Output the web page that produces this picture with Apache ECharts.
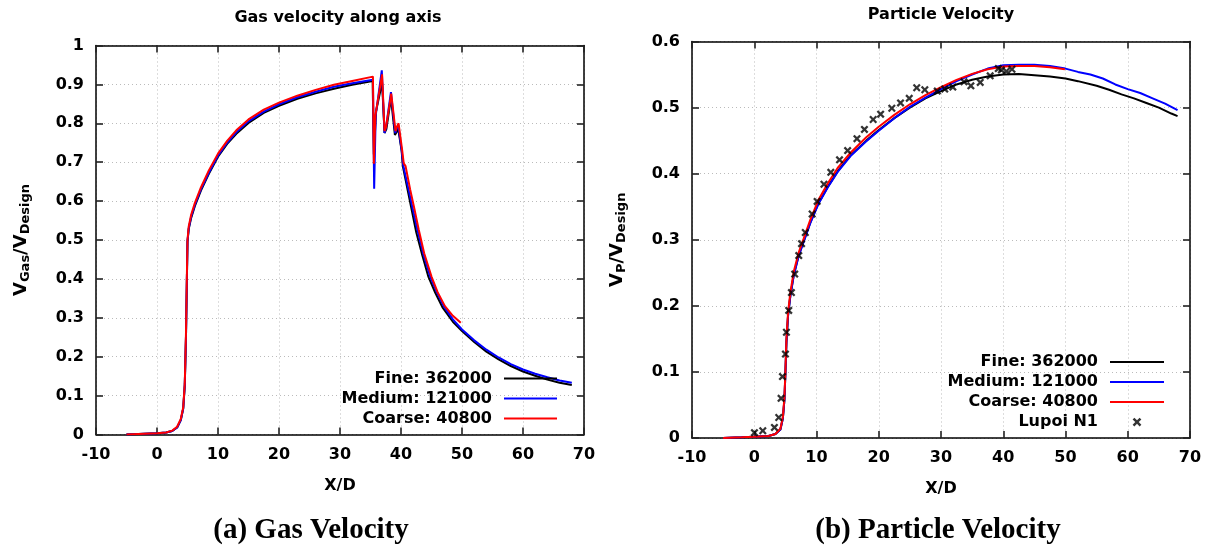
<!DOCTYPE html>
<html><head><meta charset="utf-8">
<script src="https://cdn.jsdelivr.net/npm/echarts@6/dist/echarts.min.js"></script>
<style>html,body{margin:0;padding:0;background:#fff}#c{width:1210px;height:548px}</style>
</head><body><div id="c"></div>
<script>
const seriesNames = ['Fine: 362000', 'Medium: 121000', 'Coarse: 40800'];
const expName = 'Lupoi N1';
const seriesColors = ['#000000', '#0000ff', '#ff0000'];
const xMin = -10, xMax = 70, xStep = 10;
const gasYMax = 1, partYMax = 0.6, yStep = 0.1;
const titles = ['Gas velocity along axis', 'Particle Velocity'];
const captions = ['(a) Gas Velocity', '(b) Particle Velocity'];

const gasFine = [[-5,0],[-2,0.002],[0,0.003],[1.5,0.005],[2.5,0.009],[3.3,0.018],[3.9,0.037],[4.3,0.067],[4.55,0.125],[4.75,0.25],[4.9,0.4],[5.0,0.495],[5.2,0.528],[5.6,0.557],[6.2,0.587],[7.2,0.627],[8.5,0.67],[10,0.714],[11.5,0.747],[13,0.773],[15,0.801],[17.5,0.827],[20,0.845],[23,0.863],[26,0.877],[29,0.889],[32,0.899],[35.35,0.909],[35.55,0.72],[35.9,0.83],[36.9,0.905],[37.3,0.775],[37.6,0.785],[38.35,0.865],[39.0,0.77],[39.2,0.772],[39.55,0.785],[39.85,0.78],[40.1,0.73],[40.3,0.69],[41.2,0.62],[42.5,0.52],[43.5,0.46],[44.5,0.405],[45.6,0.365],[46.8,0.327],[48.5,0.29],[50,0.266],[52,0.238],[54,0.213],[56,0.193],[58,0.176],[60,0.162],[62,0.151],[64,0.141],[66,0.133],[68,0.127]];
const gasMedium = [[-5,0],[-2,0.002],[0,0.003],[1.5,0.005],[2.5,0.009],[3.3,0.018],[3.9,0.037],[4.3,0.067],[4.55,0.127],[4.75,0.25],[4.9,0.4],[5.0,0.497],[5.2,0.53],[5.6,0.56],[6.2,0.59],[7.2,0.63],[8.5,0.673],[10,0.717],[11.5,0.75],[13,0.777],[15,0.805],[17.5,0.83],[20,0.849],[23,0.867],[26,0.881],[29,0.894],[32,0.903],[35.4,0.912],[35.6,0.632],[35.85,0.82],[36.85,0.936],[37.3,0.775],[37.55,0.79],[38.35,0.88],[39.05,0.775],[39.25,0.785],[39.55,0.795],[39.85,0.79],[40.15,0.725],[40.35,0.693],[41.3,0.625],[42.7,0.525],[43.7,0.462],[44.8,0.405],[45.9,0.365],[47,0.33],[48.5,0.296],[50,0.27],[52,0.242],[54,0.218],[56,0.198],[58,0.181],[60,0.167],[62,0.156],[64,0.147],[66,0.139],[68,0.133]];
const gasCoarse = [[-5,0],[-2,0.002],[0,0.003],[1.5,0.005],[2.5,0.01],[3.3,0.02],[3.9,0.04],[4.3,0.07],[4.55,0.13],[4.75,0.26],[4.9,0.41],[5.0,0.5],[5.2,0.535],[5.6,0.565],[6.2,0.595],[7.2,0.635],[8.5,0.679],[10,0.722],[11.5,0.755],[13,0.782],[15,0.81],[17.5,0.835],[20,0.853],[23,0.871],[26,0.886],[29,0.899],[32,0.909],[35.4,0.92],[35.55,0.696],[35.8,0.82],[36.9,0.926],[37.3,0.78],[37.55,0.79],[38.4,0.876],[39.1,0.78],[39.3,0.79],[39.6,0.8],[39.9,0.795],[40.2,0.73],[40.45,0.697],[40.75,0.69],[41.5,0.63],[42.2,0.58],[42.9,0.527],[43.8,0.466],[45,0.406],[46,0.366],[47.2,0.33],[48.5,0.305],[49.8,0.287]];

const partFine = [[-5,0],[-2,0.001],[0,0.002],[2.3,0.003],[3.4,0.006],[4.2,0.013],[4.6,0.03],[4.85,0.058],[5.0,0.097],[5.17,0.145],[5.43,0.185],[5.8,0.215],[6.35,0.247],[7.15,0.277],[7.95,0.298],[9,0.326],[10.3,0.355],[11.8,0.38],[13.5,0.405],[15.5,0.428],[18,0.45],[20,0.466],[22.5,0.484],[25,0.5],[27.5,0.514],[30,0.525],[32.5,0.535],[35,0.542],[37.5,0.547],[40,0.55],[42.5,0.551],[45,0.549],[47.5,0.547],[50,0.544],[52,0.54],[55,0.533],[57,0.527],[59,0.52],[61,0.514],[63,0.507],[65,0.5],[67,0.491],[68,0.487]];
const partMedium = [[-5,0],[-2,0.001],[0,0.002],[2.3,0.003],[3.4,0.006],[4.2,0.013],[4.6,0.03],[4.85,0.058],[5.0,0.097],[5.17,0.145],[5.43,0.185],[5.8,0.215],[6.35,0.246],[7.15,0.276],[7.95,0.297],[9,0.325],[10.3,0.354],[11.8,0.379],[13.5,0.404],[15.5,0.427],[18,0.449],[20,0.465],[22.5,0.484],[25,0.501],[27.5,0.515],[30,0.528],[32.5,0.54],[35,0.55],[37.5,0.559],[40,0.564],[42.5,0.565],[45,0.565],[47.5,0.563],[50,0.559],[52,0.554],[54,0.55],[56,0.544],[58,0.535],[60,0.528],[62,0.522],[64,0.514],[66,0.506],[68,0.496]];
const partCoarse = [[-5,0],[-2,0.001],[0,0.002],[2.3,0.003],[3.4,0.006],[4.2,0.014],[4.6,0.032],[4.85,0.062],[5.0,0.1],[5.17,0.15],[5.43,0.19],[5.8,0.22],[6.35,0.252],[7.15,0.281],[7.95,0.302],[9,0.33],[10.3,0.36],[11.8,0.385],[13.5,0.41],[15.5,0.432],[18,0.455],[20,0.471],[22.5,0.489],[25,0.505],[27.5,0.519],[30,0.531],[32.5,0.542],[35,0.551],[37.5,0.558],[40,0.562],[42.5,0.563],[45,0.563],[47.5,0.561],[49.9,0.558]];
const lupoiN1 = [[0.03,0.008],[1.37,0.011],[3.24,0.016],[3.94,0.031],[4.31,0.06],[4.53,0.093],[5.01,0.127],[5.17,0.16],[5.54,0.193],[5.97,0.22],[6.5,0.248],[7.15,0.276],[7.6,0.294],[8.2,0.311],[9.3,0.339],[10.1,0.358],[11.2,0.384],[12.3,0.402],[13.7,0.421],[15,0.435],[16.5,0.453],[17.7,0.467],[19.1,0.482],[20.3,0.49],[22.1,0.499],[23.5,0.507],[24.9,0.514],[26.1,0.53],[27.4,0.527],[29.4,0.525],[30.6,0.528],[31.9,0.531],[33.7,0.539],[34.8,0.533],[36.3,0.538],[37.9,0.548],[39.2,0.559],[39.7,0.557],[40.5,0.555],[41.4,0.558]];

const FONT = 'DejaVu Sans';
const crossPath = 'path://M0,2L2,0L5,3L8,0L10,2L7,5L10,8L8,10L5,7L2,10L0,8L3,5Z';
const crossLegendPath = 'path://M-3,-3M13,13M0,2L2,0L5,3L8,0L10,2L7,5L10,8L8,10L5,7L2,10L0,8L3,5Z';

const fmt = v => String(+v.toFixed(1));
const labelStyle = {fontFamily: FONT, fontWeight: 'bold', fontSize: 16, color: '#000'};
const gridLine = {show: true, lineStyle: {color: '#bbbbbb', type: [1, 3], width: 1}};
const tickStyle = {show: true, inside: true, length: 7, lineStyle: {color: '#222', width: 1.6}};
const axisLineStyle = {show: true, onZero: false, lineStyle: {color: '#000', width: 1.5}};

function xAx(grid, pos, main) {
  return {
    type: 'value', gridIndex: grid, position: pos, min: xMin, max: xMax, interval: xStep,
    axisLine: axisLineStyle,
    axisTick: tickStyle,
    axisLabel: main ? Object.assign({show: true, margin: 12, formatter: fmt}, labelStyle) : {show: false},
    splitLine: main ? gridLine : {show: false},
    name: main ? 'X/D' : '', nameLocation: 'middle', nameGap: 43,
    nameTextStyle: {fontFamily: FONT, fontWeight: 'bold', fontSize: 16, color: '#000'}
  };
}
function yAx(grid, pos, main, ymax, nameSub) {
  return {
    type: 'value', gridIndex: grid, position: pos, min: 0, max: ymax, interval: yStep,
    axisLine: axisLineStyle,
    axisTick: tickStyle,
    axisLabel: main ? Object.assign({show: true, margin: 12, formatter: fmt}, labelStyle) : {show: false},
    splitLine: main ? gridLine : {show: false},
    name: main ? '{v|V}{s|' + nameSub + '}{v|/V}{s|Design}' : '',
    nameLocation: 'middle', nameGap: 64,
    nameTextStyle: {
      fontFamily: FONT, fontWeight: 'bold', color: '#000',
      rich: {
        v: {fontFamily: FONT, fontWeight: 'bold', fontSize: 18, color: '#000', lineHeight: 20, verticalAlign: 'top'},
        s: {fontFamily: FONT, fontWeight: 'bold', fontSize: 13, color: '#000', lineHeight: 13, verticalAlign: 'bottom', padding: [10, 0, 0, 0]}
      }
    }
  };
}

function lineSeries(name, data, color, xi, yi) {
  return {
    type: 'line', name: name, data: data, xAxisIndex: xi, yAxisIndex: yi,
    symbol: 'none', showSymbol: false, smooth: false, animation: false,
    lineStyle: {color: color, width: 2}, itemStyle: {color: color}
  };
}

const hiddenIcon = {color: 'rgba(0,0,0,0)', borderColor: 'rgba(0,0,0,0)', borderWidth: 0};
const lineLegendData = seriesNames.map(n => ({name: n, itemStyle: hiddenIcon}));

const chart = echarts.init(document.getElementById('c'), null, {renderer: 'canvas'});
const legendText = {fontFamily: FONT, fontWeight: 'bold', fontSize: 16, color: '#000', lineHeight: 18, padding: [0, 7, 0, 0]};
chart.setOption({
  animation: false,
  backgroundColor: '#fff',
  title: [
    {text: titles[0], left: 338, top: 10, textAlign: 'center', padding: 0,
     textStyle: {fontFamily: FONT, fontWeight: 'bold', fontSize: 16, color: '#000'}},
    {text: titles[1], left: 941, top: 7, textAlign: 'center', padding: 0,
     textStyle: {fontFamily: FONT, fontWeight: 'bold', fontSize: 16, color: '#000'}},
    {text: captions[0], left: 311, top: 516, textAlign: 'center', padding: 0,
     textStyle: {fontFamily: 'Liberation Serif', fontWeight: 'bold', fontSize: 29, color: '#000'}},
    {text: captions[1], left: 938, top: 516, textAlign: 'center', padding: 0,
     textStyle: {fontFamily: 'Liberation Serif', fontWeight: 'bold', fontSize: 29, color: '#000'}}
  ],
  grid: [
    {left: 96, top: 45.5, width: 488, height: 389, show: false, containLabel: false},
    {left: 692, top: 41.5, width: 498, height: 396.5, show: false, containLabel: false}
  ],
  xAxis: [xAx(0, 'bottom', true), xAx(1, 'bottom', true), xAx(0, 'top', false), xAx(1, 'top', false)],
  yAxis: [yAx(0, 'left', true, gasYMax, 'Gas'), yAx(1, 'left', true, partYMax, 'P'), yAx(0, 'right', false, gasYMax, ''), yAx(1, 'right', false, partYMax, '')],
  legend: [
    {orient: 'vertical', align: 'right', right: 652, top: 369.5, padding: 0, itemWidth: 53, itemHeight: 14, itemGap: 2,
     data: lineLegendData, textStyle: legendText, selectedMode: false},
    {orient: 'vertical', align: 'right', right: 45, top: 353, padding: 0, itemWidth: 54, itemHeight: 14, itemGap: 2,
     data: lineLegendData.concat([{name: expName, icon: crossLegendPath, itemStyle: {color: '#000'}}]), textStyle: legendText, selectedMode: false}
  ],
  series: [
    lineSeries(seriesNames[0], gasFine, seriesColors[0], 0, 0),
    lineSeries(seriesNames[1], gasMedium, seriesColors[1], 0, 0),
    lineSeries(seriesNames[2], gasCoarse, seriesColors[2], 0, 0),
    lineSeries(seriesNames[0], partFine, seriesColors[0], 1, 1),
    lineSeries(seriesNames[1], partMedium, seriesColors[1], 1, 1),
    lineSeries(seriesNames[2], partCoarse, seriesColors[2], 1, 1),
    {type: 'scatter', name: expName, data: lupoiN1, xAxisIndex: 1, yAxisIndex: 1,
     symbol: crossPath, symbolSize: 8, itemStyle: {color: '#000'}, z: 5, animation: false}
  ]
});
</script></body></html>
